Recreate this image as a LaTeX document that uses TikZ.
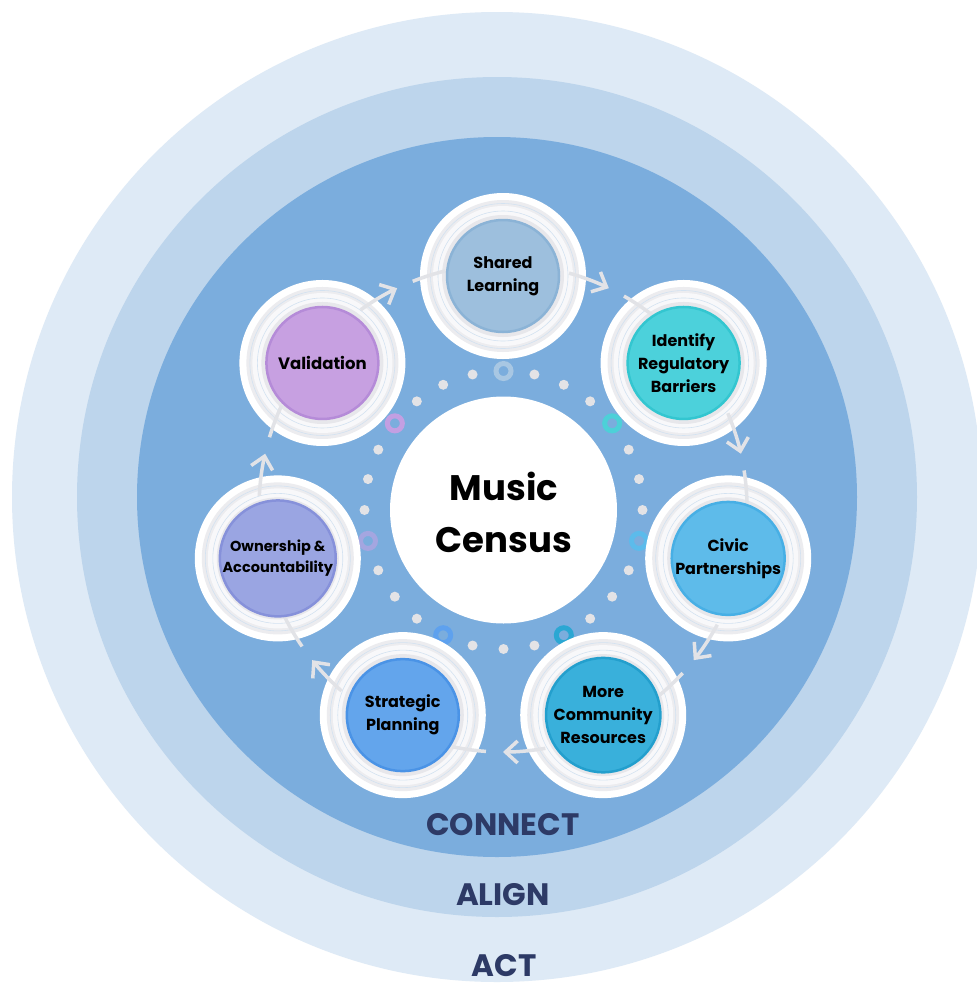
\documentclass[tikz,border=0pt]{standalone}
\usepackage{fontspec}
\setmainfont{Poppins}
\usetikzlibrary{arrows.meta,calc}
\definecolor{bgA}{HTML}{DEEAF6}
\definecolor{bgB}{HTML}{BDD5EC}
\definecolor{bgC}{HTML}{7BADDD}
\definecolor{navy}{HTML}{2D3A66}
\definecolor{arrowgray}{HTML}{E2E3E7}
\definecolor{dotgray}{HTML}{E3E3E6}
\definecolor{ringgray}{HTML}{ECECEF}
\definecolor{ringwhite}{HTML}{F8F8FA}
\definecolor{ringgrayB}{HTML}{E7E7EB}
\definecolor{ringline}{HTML}{D3E2F1}
% node fills / borders / markers
\definecolor{fA}{HTML}{9DBFDD}\definecolor{bA}{HTML}{8BB3D6}\definecolor{mA}{HTML}{A8C7E3}
\definecolor{fB}{HTML}{4CD1DB}\definecolor{bB}{HTML}{33C6D0}\definecolor{mB}{HTML}{4DD0D8}
\definecolor{fC}{HTML}{5EBBEA}\definecolor{bC}{HTML}{47AFE5}\definecolor{mC}{HTML}{5CBBEB}
\definecolor{fD}{HTML}{39B0DB}\definecolor{bD}{HTML}{239FCD}\definecolor{mD}{HTML}{2BA7D3}
\definecolor{fE}{HTML}{63A5EC}\definecolor{bE}{HTML}{4A93E6}\definecolor{mE}{HTML}{5EA1EE}
\definecolor{fF}{HTML}{9AA5E2}\definecolor{bF}{HTML}{8691DA}\definecolor{mF}{HTML}{A4A6E0}
\definecolor{fG}{HTML}{C7A0E1}\definecolor{bG}{HTML}{B58BD8}\definecolor{mG}{HTML}{C39FE2}
\tikzset{
  ringthin/.style={draw=ringline, line width=0.6pt},
  cyclearrow/.style={draw=arrowgray, line width=3.5pt},
  cyclehead/.style={-{Straight Barb[length=12pt,width=22pt]}},
  stagenode/.style={circle, inner sep=0pt, minimum size=112pt, line width=2.5pt, align=center, text=black},
  bandlabel/.style={text=navy, inner sep=0pt, font=\bfseries\fontsize{31}{36}\selectfont},
}
\newcommand\ringbase[1]{%
  \fill[white] (#1) circle[radius=83];
  \fill[ringgray] (#1) circle[radius=76];
  \fill[ringwhite] (#1) circle[radius=70];
  \draw[ringthin] (#1) circle[radius=72.5];
  \draw[ringthin] (#1) circle[radius=65];
  \fill[ringgrayB] (#1) circle[radius=61];
}
\begin{document}
\begin{tikzpicture}[x=1pt,y=-1pt]
\useasboundingbox (0,0) rectangle (977,986);
\clip (0,0) rectangle (977,986);
\fill[white] (0,0) rectangle (977,986);
% background bands
\fill[bgA] (497,497) circle[radius=485];
\fill[bgB] (497,497) circle[radius=420];
\fill[bgC] (497,497) circle[radius=360];
% centres
\coordinate (N) at (503,507);
\coordinate (D) at (503.5,510);
\coordinate (A) at (503,508);
% dots ring
\foreach \j in {0,...,27}{%
  \pgfmathtruncatemacro\rem{mod(\j,4)}%
  \ifnum\rem>0
    \fill[dotgray] ($(D)+(-90+12.857143*\j:139)$) circle[radius=5];
  \fi}
\foreach \k/\col in {0/mA,1/mB,2/mC,3/mD,4/mE,5/mF,6/mG}{%
  \draw[\col, line width=5pt] ($(D)+(-90+51.428571*\k:139)$) circle[radius=7.5];}
% centre circle
\node[circle, fill=white, minimum size=227pt, inner sep=0pt] (core) at (D) {};
\node[font=\bfseries\fontsize{35.5}{52}\selectfont, align=center] (coretext) at (504,512) {Music\\Census};
% stage positions
\foreach \k/\nm in {0/pA,1/pB,2/pC,3/pD,4/pE,5/pF,6/pG}{%
  \coordinate (\nm) at ($(N)+(-90+51.428571*\k:231)$);}
\foreach \nm in {pA,pB,pC,pD,pE,pF,pG}{\ringbase{\nm}}
% connectors
\foreach \k in {0,...,6}{%
  \pgfmathsetmacro\mid{-90+51.428571*\k+25.714286}%
  \pgfmathsetmacro\sa{\mid-10}%
  \pgfmathsetmacro\sb{\mid+4}%
  \pgfmathsetmacro\sc{\mid+12}%
  \coordinate (t\k) at ($(A)+(\sa:244)$);
  \coordinate (u\k) at ($(A)+(\sb:244)$);
  \draw[cyclearrow, cyclehead] (t\k) arc[start angle=\sa, end angle=\mid, radius=244];
  \draw[cyclearrow] (u\k) arc[start angle=\sb, end angle=\sc, radius=244];
}
% stage nodes
\node[stagenode, fill=fA, draw=bA, font=\bfseries\fontsize{16}{23}\selectfont] (shared) at (pA) {Shared\\Learning};
\node[stagenode, fill=fB, draw=bB, font=\bfseries\fontsize{16}{23}\selectfont] (identify) at (pB) {Identify\\Regulatory\\Barriers};
\node[stagenode, fill=fC, draw=bC, font=\bfseries\fontsize{16}{23}\selectfont] (civic) at (pC) {Civic\\Partnerships};
\node[stagenode, fill=fD, draw=bD, font=\bfseries\fontsize{16}{23}\selectfont] (more) at (pD) {More\\Community\\Resources};
\node[stagenode, fill=fE, draw=bE, font=\bfseries\fontsize{16}{23}\selectfont] (strategic) at (pE) {Strategic\\Planning};
\node[stagenode, fill=fF, draw=bF, font=\bfseries\fontsize{14.5}{21}\selectfont] (ownership) at (pF) {Ownership \&\\Accountability};
\node[stagenode, fill=fG, draw=bG, font=\bfseries\fontsize{16.5}{23}\selectfont] (validation) at (pG) {Validation};
% band labels
\node[bandlabel] (connect) at (503,825) {CONNECT};
\node[bandlabel] (align) at (503,895) {ALIGN};
\node[bandlabel] (act) at (504,966) {ACT};
\end{tikzpicture}
\end{document}
